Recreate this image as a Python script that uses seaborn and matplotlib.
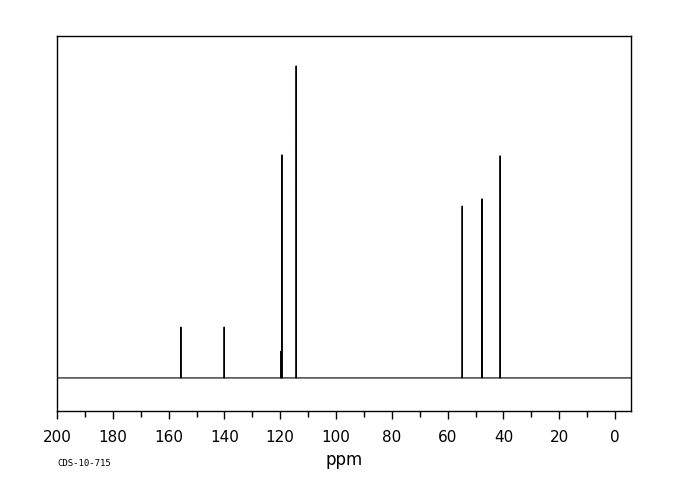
import pandas as pd
import seaborn as sns
import matplotlib.pyplot as plt
import numpy as np

# peak list (ppm, relative intensity)
peak_ppm = [155.6, 140.1, 119.7, 119.4, 114.3, 54.8, 47.7, 41.2]
peak_int = [16.3, 16.3, 8.6, 71.5, 100.0, 55.1, 57.4, 71.2]
x_ticks = [200, 180, 160, 140, 120, 100, 80, 60, 40, 20, 0]
code_label = 'CDS-10-715'

# build the stick spectrum path: baseline -> peak -> baseline
rows = [(200.0, 0.0)]
for p, h in sorted(zip(peak_ppm, peak_int), key=lambda t: -t[0]):
    rows += [(p + 0.03, 0.0), (p, h), (p - 0.03, 0.0)]
rows.append((-5.7, 0.0))
spec = pd.DataFrame(rows, columns=['ppm', 'intensity'])

sns.set_style('white')
plt.rcParams['text.color'] = 'black'
plt.rcParams['axes.labelcolor'] = 'black'
plt.rcParams['xtick.color'] = 'black'

fig = plt.figure(figsize=(6.8, 5.0), dpi=100)
ax = fig.add_axes([57 / 680, 1 - 411 / 500, 574 / 680, 375 / 500])

sns.lineplot(data=spec, x='ppm', y='intensity', sort=False, estimator=None,
             color='black', linewidth=0.8, ax=ax)

ax.set_xlim(200, -5.7)
ax.set_ylim(-10.6, 109.6)
ax.set_xticks(x_ticks)
ax.set_xticks(np.arange(190, 0, -20), minor=True)
ax.set_yticks([])
ax.tick_params(axis='x', which='major', direction='out', length=6, width=1,
               labelsize=11, pad=8, bottom=True, colors='black')
ax.tick_params(axis='x', which='minor', direction='out', length=4, width=1,
               bottom=True, colors='black')
for s in ax.spines.values():
    s.set_color('black')
    s.set_linewidth(1.0)
ax.set_xlabel('ppm', fontsize=12, labelpad=4, color='black')
ax.set_ylabel('')
fig.text(57 / 680, 1 - 463 / 500, code_label, fontsize=6.5, family='DejaVu Sans Mono',
         va='center', ha='left', color='black')

fig.savefig('out.png', dpi=100)
